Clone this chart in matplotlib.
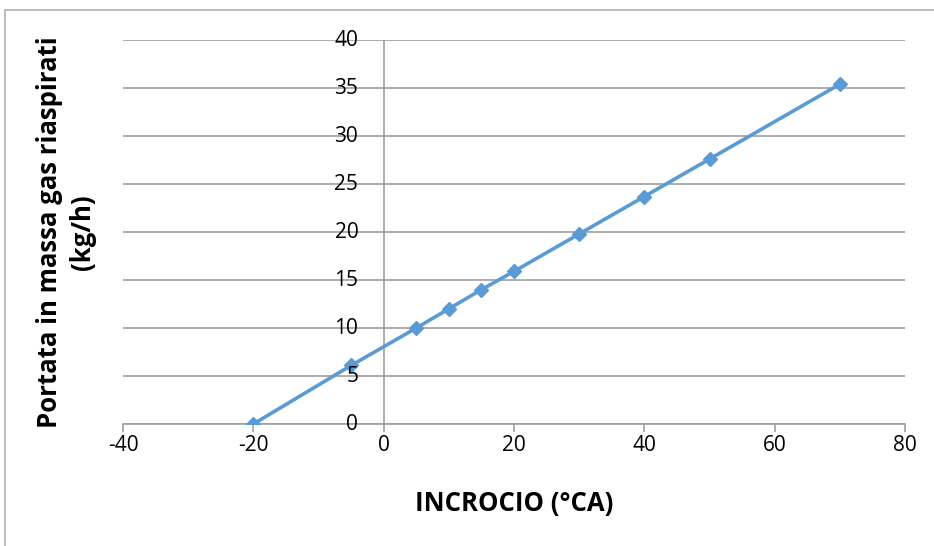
import matplotlib
matplotlib.use("Agg")
import matplotlib.pyplot as plt
from matplotlib.patches import Rectangle

# data
incrocio = [-20, -5, 5, 10, 15, 20, 30, 40, 50, 70]
portata = [0.0, 6.1, 10.0, 12.0, 14.0, 15.9, 19.8, 23.7, 27.6, 35.4]

x_ticks = [-40, -20, 0, 20, 40, 60, 80]
y_ticks = [0, 5, 10, 15, 20, 25, 30, 35, 40]

plt.rcParams['font.family'] = ['Open Sans', 'DejaVu Sans']
plt.rcParams['axes.unicode_minus'] = False
grid_col = '#a0a0a0'

fig = plt.figure(figsize=(9.34, 5.46), dpi=100)
ax = fig.add_axes([0.1317, 0.2234, 0.8373, 0.7033])

# outer chart frame (top and left visible)
fig.patches.append(Rectangle((5 / 934, -0.1), 1.2, 1 - 10 / 546 + 0.1,
                             transform=fig.transFigure, fill=False,
                             edgecolor='#b0b0b0', linewidth=1.2))

ax.plot(incrocio, portata, color='#5b9bd5', linewidth=2.6,
        marker='D', markersize=7.5, zorder=3)

ax.set_xlim(-40, 80)
ax.set_ylim(0, 40)
ax.set_xticks(x_ticks)
ax.set_yticks(y_ticks)

for s in ['top', 'right', 'left']:
    ax.spines[s].set_visible(False)
ax.spines['bottom'].set_color(grid_col)
ax.spines['bottom'].set_linewidth(1.2)

ax.yaxis.grid(True, color=grid_col, linewidth=1.2)
ax.set_axisbelow(True)
ax.axvline(0, color=grid_col, linewidth=1.2, zorder=1)

ax.tick_params(axis='x', direction='out', length=6, width=1.2, color=grid_col,
               labelsize=15, pad=2)
ax.tick_params(axis='y', length=0)
ax.set_yticklabels([])
for v in y_ticks:
    ax.text(-3.9, v, str(v), ha='right', va='center', fontsize=15)

fig.text(514 / 934, 1 - 503 / 546, 'INCROCIO (°CA)', fontsize=18.5,
         fontweight='bold', ha='center', va='center')
fig.text(66 / 934, 1 - 232 / 546, 'Portata in massa gas riaspirati\n(kg/h)',
         fontsize=18.5, fontweight='bold', rotation=90, ha='center',
         va='center', multialignment='center', linespacing=1.25)

fig.savefig('out.png', dpi=100)
